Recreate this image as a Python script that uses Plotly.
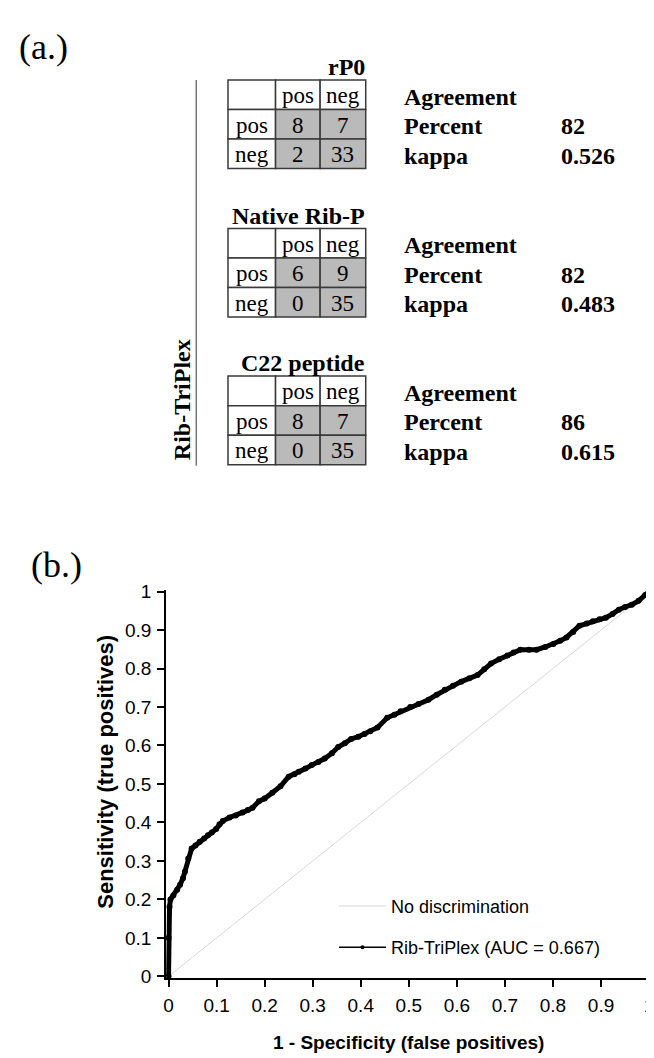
import plotly.graph_objects as go

# ---------------- data ----------------
table_titles = ["rP0", "Native Rib-P", "C22 peptide"]
col_labels = ["pos", "neg"]
row_labels = ["pos", "neg"]
pos_pos = [8, 6, 8]
pos_neg = [7, 9, 7]
neg_pos = [2, 0, 0]
neg_neg = [33, 35, 35]
percent_agree = [82, 82, 86]
kappa = [0.526, 0.483, 0.615]
side_label = "Rib-TriPlex"

x_ticks = [0, 0.1, 0.2, 0.3, 0.4, 0.5, 0.6, 0.7, 0.8, 0.9, 1]
x_tick_text = ["0", "0.1", "0.2", "0.3", "0.4", "0.5", "0.6", "0.7", "0.8", "0.9", "1"]
y_ticks = x_ticks
y_tick_text = x_tick_text

diag_x = [0, 1]
diag_y = [0, 1]

roc_fpr = [0, 0, 0.002, 0.004, 0.01, 0.018, 0.024, 0.03, 0.034, 0.041, 0.048, 0.056,
           0.065, 0.074, 0.082, 0.09, 0.099, 0.106, 0.113, 0.127, 0.14, 0.154, 0.165,
           0.175, 0.188, 0.2, 0.216, 0.233, 0.25, 0.262, 0.271, 0.285, 0.298, 0.312,
           0.325, 0.34, 0.353, 0.367, 0.38, 0.395, 0.408, 0.42, 0.435, 0.455, 0.47,
           0.483, 0.503, 0.52, 0.541, 0.558, 0.575, 0.592, 0.609, 0.626, 0.643, 0.657,
           0.671, 0.688, 0.705, 0.718, 0.732, 0.75, 0.766, 0.784, 0.801, 0.815, 0.828,
           0.842, 0.855, 0.87, 0.883, 0.897, 0.91, 0.924, 0.937, 0.95, 0.964, 0.978,
           0.992, 1.0]
roc_tpr = [0, 0.1, 0.18, 0.2, 0.21, 0.225, 0.238, 0.255, 0.272, 0.306, 0.332, 0.34,
           0.35, 0.358, 0.367, 0.374, 0.383, 0.395, 0.404, 0.413, 0.418, 0.426, 0.432,
           0.438, 0.455, 0.462, 0.477, 0.494, 0.519, 0.525, 0.532, 0.54, 0.549, 0.557,
           0.566, 0.58, 0.596, 0.606, 0.617, 0.623, 0.63, 0.637, 0.647, 0.672, 0.68,
           0.689, 0.7, 0.708, 0.719, 0.732, 0.745, 0.755, 0.766, 0.775, 0.783, 0.798,
           0.813, 0.824, 0.834, 0.842, 0.849, 0.849, 0.849, 0.856, 0.864, 0.872, 0.881,
           0.895, 0.911, 0.917, 0.923, 0.928, 0.932, 0.942, 0.953, 0.96, 0.966, 0.976,
           0.991, 1.0]

# ---------------- layout helpers (pixels -> paper) ----------------
W, H = 654, 1058


def X(px):
    return px / W


def Y(py):
    return 1 - py / H


SERIF = "Liberation Serif, Times New Roman, serif"
SANS = "Liberation Sans, Arial, sans-serif"

fig = go.Figure()

# ROC traces
fig.add_trace(go.Scatter(x=diag_x, y=diag_y, mode="lines", name="No discrimination",
                         line=dict(color="#d8d8d8", width=1), legendgroup="a"))
fig.add_trace(go.Scatter(x=roc_fpr, y=roc_tpr, mode="lines+markers", showlegend=False,
                         line=dict(color="black", width=5),
                         marker=dict(color="black", size=6)))
fig.add_trace(go.Scatter(x=[None], y=[None], mode="lines+markers",
                         name="Rib-TriPlex (AUC = 0.667)",
                         line=dict(color="black", width=1.5),
                         marker=dict(color="black", size=4), legendgroup="b"))

# axes geometry
ax_x0, ax_x1 = 159, 644     # pixel of data 0 and 1 on x
ax_y0, ax_y1 = 976, 585     # pixel of data 0 and 1 on y
pad = 0.005
xr = [-pad, 1 + pad]
yr = [-pad, 1 + pad]
sx = ax_x1 - ax_x0
sy = ax_y0 - ax_y1
xdom = [X(ax_x0 - pad * sx), X(ax_x1 + pad * sx)]
ydom = [Y(ax_y0 + pad * sy), Y(ax_y1 - pad * sy)]

axis_common = dict(showgrid=False, zeroline=False, showline=True, linecolor="black",
                   linewidth=2, ticks="outside", ticklen=7, tickwidth=2, tickcolor="black",
                   tickfont=dict(family=SANS, size=19, color="black"), fixedrange=True,
                   ticklabeloverflow="allow")
fig.update_layout(
    xaxis=dict(domain=xdom, range=xr, tickvals=x_ticks, ticktext=x_tick_text,
               ticklabelstandoff=2, **axis_common),
    yaxis=dict(domain=ydom, range=yr, tickvals=y_ticks, ticktext=y_tick_text,
               ticklabelstandoff=2, **axis_common),
)

annotations = []
shapes = []

# axis titles
annotations.append(dict(text="<b>1 - Specificity (false positives)</b>", xref="paper", yref="paper",
                        x=X((ax_x0 + ax_x1) / 2), y=Y(1043), xanchor="center", yanchor="middle",
                        showarrow=False, font=dict(family=SANS, size=19, color="black")))
annotations.append(dict(text="<b>Sensitivity (true positives)</b>", xref="paper", yref="paper",
                        x=X(96), y=Y(768), xanchor="center", yanchor="middle", textangle=-90,
                        showarrow=False, font=dict(family=SANS, size=22, color="black")))

# panel labels
annotations.append(dict(text="(a.)", xref="paper", yref="paper", x=X(6), y=Y(32),
                        xanchor="left", yanchor="middle", showarrow=False,
                        font=dict(family=SERIF, size=36, color="black")))
annotations.append(dict(text="(b.)", xref="paper", yref="paper", x=X(18), y=Y(558),
                        xanchor="left", yanchor="middle", showarrow=False,
                        font=dict(family=SERIF, size=36, color="black")))

# tables
tab_left = 219
col_w = [48, 45, 46]
row_h = 30
tab_tops = [65, 216, 366]
agree_x = 395
value_x = 553
gray = "#bababa"
border = "#3a3a3a"

col_edges = [tab_left]
for w in col_w:
    col_edges.append(col_edges[-1] + w)

for t in range(len(table_titles)):
    top = tab_tops[t]
    cells = [["", col_labels[0], col_labels[1]],
             [row_labels[0], str(pos_pos[t]), str(pos_neg[t])],
             [row_labels[1], str(neg_pos[t]), str(neg_neg[t])]]
    for r in range(3):
        for c in range(3):
            fill = gray if (r > 0 and c > 0) else "white"
            shapes.append(dict(type="rect", xref="paper", yref="paper",
                               x0=X(col_edges[c]), x1=X(col_edges[c + 1]),
                               y0=Y(top + r * row_h), y1=Y(top + (r + 1) * row_h),
                               fillcolor=fill, line=dict(color=border, width=1.5), layer="below"))
            if cells[r][c]:
                annotations.append(dict(text=cells[r][c], xref="paper", yref="paper",
                                        x=X((col_edges[c] + col_edges[c + 1]) / 2),
                                        y=Y(top + r * row_h + row_h / 2 + 1),
                                        xanchor="center", yanchor="middle", showarrow=False,
                                        font=dict(family=SERIF, size=23, color="black")))
    # title
    annotations.append(dict(text="<b>" + table_titles[t] + "</b>", xref="paper", yref="paper",
                            x=X(col_edges[-1] + 1), y=Y(top - 13), xanchor="right", yanchor="middle",
                            showarrow=False, font=dict(family=SERIF, size=24, color="black")))
    # agreement block
    labels = ["Agreement", "Percent", "kappa"]
    vals = ["", str(percent_agree[t]), f"{kappa[t]:.3f}"]
    for r in range(3):
        annotations.append(dict(text="<b>" + labels[r] + "</b>", xref="paper", yref="paper",
                                x=X(agree_x), y=Y(top + r * row_h + row_h / 2 + 2),
                                xanchor="left", yanchor="middle", showarrow=False,
                                font=dict(family=SERIF, size=24, color="black")))
        if vals[r]:
            annotations.append(dict(text="<b>" + vals[r] + "</b>", xref="paper", yref="paper",
                                    x=X(value_x), y=Y(top + r * row_h + row_h / 2 + 2),
                                    xanchor="left", yanchor="middle", showarrow=False,
                                    font=dict(family=SERIF, size=24, color="black")))

# side bracket line and label
shapes.append(dict(type="line", xref="paper", yref="paper", x0=X(187), x1=X(187),
                   y0=Y(65), y1=Y(457), line=dict(color="#777777", width=1.5)))
annotations.append(dict(text="<b>" + side_label + "</b>", xref="paper", yref="paper",
                        x=X(172), y=Y(390), xanchor="center", yanchor="middle", textangle=-90,
                        showarrow=False, font=dict(family=SERIF, size=24, color="black")))

fig.update_layout(
    width=W, height=H, autosize=False,
    margin=dict(l=0, r=0, t=0, b=0, pad=0),
    paper_bgcolor="white", plot_bgcolor="white",
    annotations=annotations, shapes=shapes,
    showlegend=True,
    legend=dict(x=X(326), y=Y(886), xanchor="left", yanchor="top",
                bgcolor="rgba(0,0,0,0)", borderwidth=0,
                font=dict(family=SANS, size=18, color="black"),
                tracegroupgap=15, itemwidth=47),
)

fig.write_html("out.html")
